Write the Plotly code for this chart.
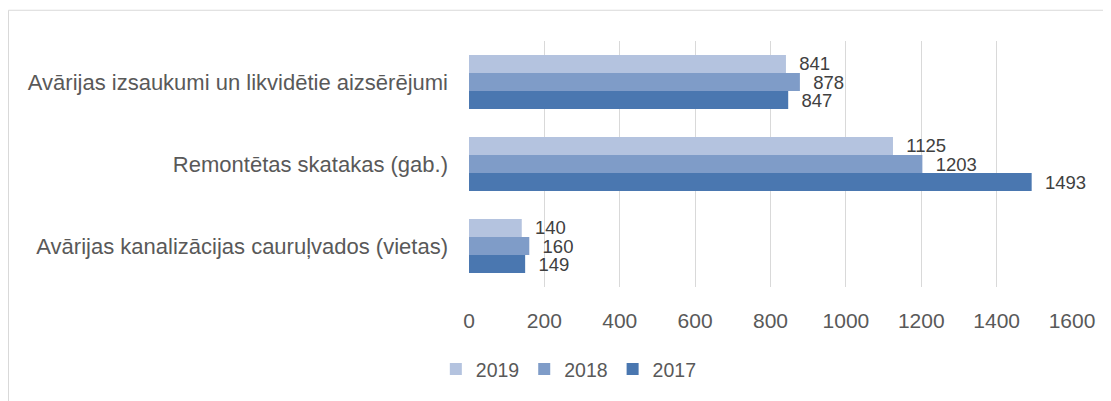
import plotly.graph_objects as go

categories = [
    "Avārijas kanalizācijas cauruļvados (vietas)",
    "Remontētas skatakas (gab.)",
    "Avārijas izsaukumi un likvidētie aizsērējumi",
]
years = ["2017", "2018", "2019"]
values_2017 = [149, 1493, 847]
values_2018 = [160, 1203, 878]
values_2019 = [140, 1125, 841]
colors = {"2017": "#4A77B0", "2018": "#7F9CC8", "2019": "#B4C3DF"}
series = {"2017": values_2017, "2018": values_2018, "2019": values_2019}
x_ticks = [0, 200, 400, 600, 800, 1000, 1200, 1400, 1600]

FONT = "Liberation Sans"
TXT = "#595959"
NB = "\u00a0\u00a0"

fig = go.Figure()
for y in years:
    fig.add_trace(go.Bar(
        name=y, y=categories, x=series[y], orientation="h",
        marker=dict(color=colors[y], line=dict(width=0)),
        text=[NB + str(v) for v in series[y]], textposition="outside",
        constraintext="none",
        textfont=dict(family=FONT, size=18.5, color="#404040"),
        cliponaxis=False,
    ))

W, H = 1103, 393
fig.update_layout(
    width=W, height=H,
    margin=dict(l=461, r=39, t=33, b=112),
    paper_bgcolor="white", plot_bgcolor="white",
    barmode="group", bargap=0.34, bargroupgap=0,
    font=dict(family=FONT, size=20, color=TXT),
    showlegend=True,
    legend=dict(orientation="h", traceorder="reversed", x=-0.055, xanchor="left",
                y=-0.335, yanchor="middle", font=dict(family=FONT, size=19.5, color=TXT),
                itemwidth=30),
    xaxis=dict(range=[0, 1600], tickvals=x_ticks, ticktext=[str(t) for t in x_ticks],
               showgrid=True, gridcolor="#D9D9D9", gridwidth=1, zeroline=False,
               showline=False, ticks="", ticklabelstandoff=19,
               tickfont=dict(family=FONT, size=21, color=TXT)),
    yaxis=dict(categoryorder="array", categoryarray=categories, showgrid=False,
               zeroline=False, showline=False, ticks="", ticklabelstandoff=20,
               tickfont=dict(family=FONT, size=22, color=TXT)),
    shapes=[dict(type="rect", xref="paper", yref="paper",
                 x0=-0.7637, x1=1.2, y0=-0.5, y1=1.125,
                 line=dict(color="#D9D9D9", width=1), fillcolor="rgba(0,0,0,0)", layer="below")],
)
fig.write_html("out.html")
